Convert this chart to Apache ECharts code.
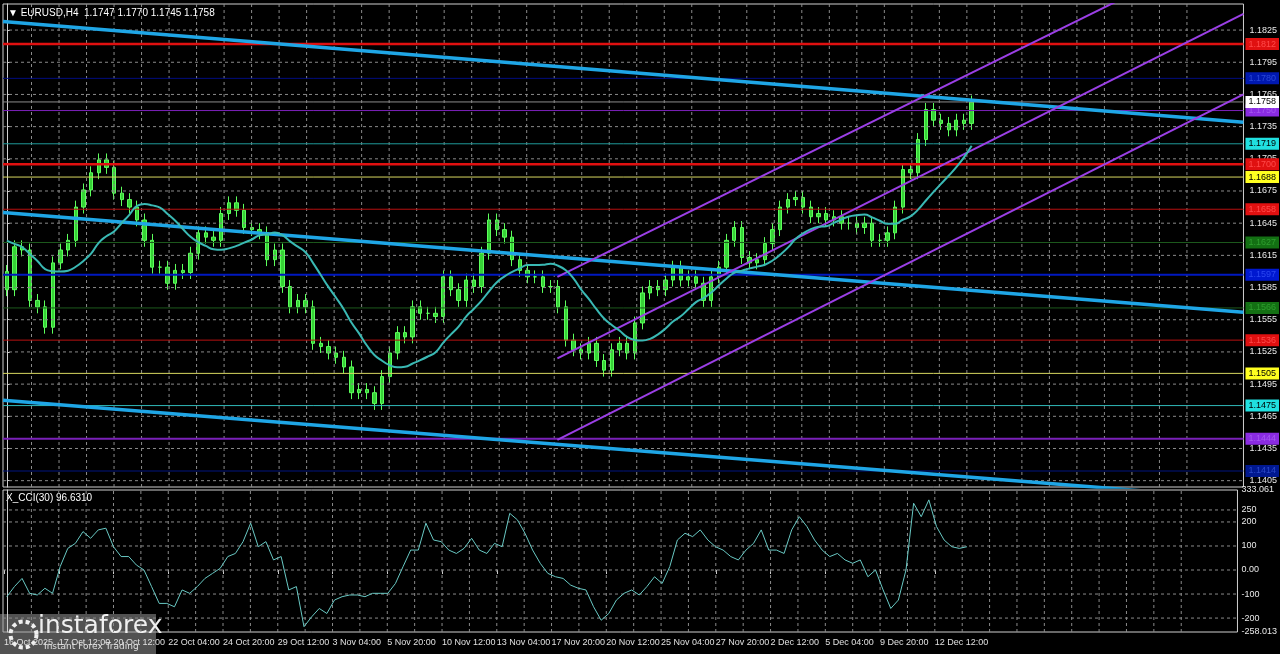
<!DOCTYPE html>
<html><head><meta charset="utf-8">
<script src="https://cdn.jsdelivr.net/npm/echarts@6/dist/echarts.min.js"></script>
<style>html,body{margin:0;padding:0;background:#000;}#c{width:1280px;height:654px;}</style>
</head><body><div id="c"></div>
<script>
// ---- data ----
const closes = [
1.1583,1.1623,1.1620,1.1573,1.1567,1.1548,1.1608,1.1620,1.1629,1.1660,
1.1676,1.1692,1.1704,1.1697,1.1673,1.1667,1.1660,1.1648,1.1629,1.1604,
1.1604,1.1589,1.1601,1.1599,1.1617,1.1636,1.1632,1.1629,1.1654,1.1664,
1.1657,1.1641,1.1639,1.1636,1.1611,1.1620,1.1586,1.1567,1.1573,1.1567,
1.1533,1.1530,1.1524,1.1520,1.1511,1.1487,1.1490,1.1487,1.1477,1.1502,
1.1524,1.1543,1.1539,1.1567,1.1561,1.1561,1.1558,1.1595,1.1583,1.1573,
1.1592,1.1586,1.1617,1.1648,1.1639,1.1632,1.1611,1.1601,1.1595,1.1595,
1.1586,1.1586,1.1567,1.1536,1.1527,1.1524,1.1533,1.1517,1.1508,1.1527,
1.1533,1.1524,1.1552,1.1580,1.1586,1.1583,1.1592,1.1604,1.1592,1.1595,
1.1589,1.1573,1.1595,1.1604,1.1629,1.1641,1.1613,1.1608,1.1611,1.1626,
1.1639,1.1660,1.1667,1.1669,1.1660,1.1651,1.1654,1.1648,1.1651,1.1645,
1.1645,1.1641,1.1645,1.1629,1.1629,1.1636,1.1660,1.1695,1.1692,1.1723,
1.1751,1.1741,1.1738,1.1732,1.1741,1.1738,1.1758];
const firstOpen = 1.1600;
const maSeed = [1.1660,1.1655,1.1650,1.1645,1.1640,1.1630,1.1625,1.1620,1.1615,1.1612,1.1610];
const cci = [
-111,-69,-35,-97,-104,-76,-97,14,90,111,160,132,167,174,97,56,56,21,0,-69,-139,-139,-153,-83,-97,-69,-35,-14,7,56,69,118,195,97,118,42,56,-83,-69,-236,-195,-160,-181,-125,
-111,-104,-104,-111,-97,-97,-97,-56,14,83,83,195,125,118,83,69,90,132,83,69,111,97,236,209,153,83,28,-14,-28,-35,-63,-76,-83,-153,-209,-181,-125,-97,-83,-104,-69,-28,-56,
14,125,153,139,167,125,97,83,56,42,83,111,167,83,83,69,167,222,181,125,83,56,69,42,28,42,-28,0,-83,-160,-125,0,278,222,292,181,125,97,90,97];
const timeLabels = ['16 Oct 2025','17 Oct 12:00','20 Oct 12:00','22 Oct 04:00','24 Oct 20:00','29 Oct 12:00','3 Nov 04:00','5 Nov 20:00','10 Nov 12:00','13 Nov 04:00','17 Nov 20:00','20 Nov 12:00','25 Nov 04:00','27 Nov 20:00','2 Dec 12:00','5 Dec 04:00','9 Dec 20:00','12 Dec 12:00'];
const priceTicks = [1.1825,1.1795,1.1765,1.1735,1.1705,1.1675,1.1645,1.1615,1.1585,1.1555,1.1525,1.1495,1.1465,1.1435,1.1405];
const cciTicks = [250,200,100,0,-100,-200];
const cciAxisLabels = [333.061,250,200,100,0,-100,-200,-258.013];
const levelValues = [1.1812,1.1780,1.1750,1.1719,1.1700,1.1688,1.1658,1.1627,1.1597,1.1566,1.1536,1.1505,1.1475,1.1444,1.1414];
const levelNames = ['','','','[8/8]P','','[7/8]P','[6/8]P','[5/8]P','[4/8]P','[3/8]P','[2/8]P','[1/8]P','[0/8]P','[-1/8]P',''];
const lastPrice = 1.1758;
const trendLines = [[-0.5,1.1833,161.5,1.1739],[-0.5,1.1655,161.5,1.1562],[-0.5,1.1480,161.5,1.1388]];
const channelLines = [[71.9,1.1595,161.5,1.1910],[71.9,1.1519,161.5,1.1840],[71.9,1.1443,161.5,1.1765]];
const levelLabelSlot = 125;
// ---- styles ----
const levelStyle = [
 {c:'#e01010',w:2.5,bg:'#e01010',t:'#ff4a4a'},
 {c:'#000c80',w:1,bg:'#0018b0',t:'#2a48d8'},
 {c:'#7a20b8',w:1,bg:'#8a2be2',t:'#a558f0'},
 {c:'#1f9a9a',w:1,bg:'#20e0e0',t:'#000'},
 {c:'#e01010',w:2.5,bg:'#e01010',t:'#ff4a4a'},
 {c:'#d8d860',w:1,bg:'#ffff20',t:'#000'},
 {c:'#b81010',w:1,bg:'#e01010',t:'#ff4a4a'},
 {c:'#1d5a1d',w:1,bg:'#137013',t:'#2e9e2e'},
 {c:'#0018c0',w:2,bg:'#0018d0',t:'#2a48f0'},
 {c:'#1d5a1d',w:1,bg:'#137013',t:'#2e9e2e'},
 {c:'#b81010',w:1,bg:'#e01010',t:'#ff4a4a'},
 {c:'#d8d860',w:1,bg:'#ffff20',t:'#000'},
 {c:'#2fb8b8',w:1,bg:'#20e0e0',t:'#000'},
 {c:'#7a20b8',w:2,bg:'#8a2be2',t:'#a558f0'},
 {c:'#001480',w:1,bg:'#001890',t:'#2a48c8'}];
const labelNameColor = ['','','','#30c8c8','','#e0d040','#e02020','#2a8a2a','#2040e0','#2a8a2a','#e02020','#e0d040','#30c8c8','#9040e0',''];
const N = 162;
const cats = Array.from({length:N},(_,i)=>i);
const candles = closes.map((c,i)=>{const o=i?closes[i-1]:firstOpen;const h=Math.max(o,c)+0.0006,l=Math.min(o,c)-0.0006;return [o,c,l,h];});
const MAP=12;
const all = maSeed.concat(closes);
const ma = closes.map((c,i)=>{const j=i+maSeed.length;const s=all.slice(j-MAP+1,j+1);return +(s.reduce((a,b)=>a+b,0)/s.length).toFixed(5);});
const slotPx = 1240/N, labelStepSlots = 55/slotPx, firstLabelSlot = 1/slotPx-0.5;
const labelPos = timeLabels.map((_,k)=>firstLabelSlot+k*labelStepSlots);
const vGrid = []; for(let k=1;k<timeLabels.length*2+8;k++){const p=firstLabelSlot+k*labelStepSlots/2; if(p<N-0.5) vGrid.push(p);}
const PMIN=1.13991,PMAX=1.18493,CMIN=-258.013,CMAX=333.061;
function gridData(hs,lo,hi){const d=[];hs.forEach(v=>{d.push([-0.5,v],[N-0.5,v],'-');});vGrid.forEach(x=>{d.push([x,lo],[x,hi],'-');});return d;}
const dash = {color:'#8a8a8a',type:[3,3],width:1};
const chart = echarts.init(document.getElementById('c'));
const seg = (a)=>({type:'line',xAxisIndex:1,yAxisIndex:0,data:[[a[0],a[1]],[a[2],a[3]]],symbol:'none',silent:true});
const levelLabelData = [];
levelValues.forEach((v,i)=>{ if(levelNames[i]) levelLabelData.push({value:[levelLabelSlot,v],label:{formatter:levelNames[i],color:labelNameColor[i]}}); });
const hline=(v,st,bg,tc)=>({type:'line',xAxisIndex:1,yAxisIndex:0,symbol:'none',silent:true,data:[[-0.5,v],[N-0.5,v]],
  lineStyle:{color:st.c,width:st.w},
  endLabel:{show:true,formatter:v.toFixed(4),color:tc,backgroundColor:bg,fontSize:9,fontFamily:'Liberation Sans',padding:[2,3,1,3],distance:2}});
chart.setOption({
 backgroundColor:'#000', animation:false,
 textStyle:{fontFamily:'Liberation Sans'},
 grid:[{left:3,right:36,top:4,height:483,show:true,borderColor:'#cfcfcf',borderWidth:1},
       {left:3,right:36,top:490,height:142,show:true,borderColor:'#cfcfcf',borderWidth:1}],
 xAxis:[
  {type:'category',gridIndex:0,data:cats,show:false,boundaryGap:true},
  {type:'value',gridIndex:0,min:-0.5,max:N-0.5,show:false},
  {type:'value',gridIndex:1,min:-0.5,max:N-0.5,axisLine:{show:false},splitLine:{show:false},
   axisTick:{show:true,customValues:labelPos,length:4,lineStyle:{color:'#ccc'}},
   axisLabel:{customValues:labelPos,color:'#e0e0e0',fontSize:9,margin:6,align:'left',hideOverlap:false,formatter:(v)=>{const k=labelPos.findIndex(p=>Math.abs(p-v)<1e-6);return k>=0?timeLabels[k]:'';}}},
  {type:'category',gridIndex:1,data:cats,show:false,boundaryGap:true}
 ],
 yAxis:[
  {type:'value',gridIndex:0,min:PMIN,max:PMAX,position:'right',splitLine:{show:false},axisLine:{show:true,lineStyle:{color:'#cfcfcf'}},
   axisTick:{show:true,customValues:priceTicks,length:3},axisLabel:{customValues:priceTicks,color:'#e8e8e8',fontSize:9,margin:6,formatter:v=>v.toFixed(4)}},
  {type:'value',gridIndex:1,min:CMIN,max:CMAX,position:'right',splitLine:{show:false},axisLine:{show:true,lineStyle:{color:'#cfcfcf'}},
   axisTick:{show:false},axisLabel:{customValues:cciAxisLabels,color:'#e8e8e8',fontSize:9,margin:4,formatter:v=>Number.isInteger(v)?(v===0?'0.00':String(v)):v.toFixed(3)}}
 ],
 series:[
  {type:'line',xAxisIndex:1,yAxisIndex:0,data:gridData(priceTicks,PMIN,PMAX),symbol:'none',silent:true,lineStyle:dash,connectNulls:false},
  {type:'line',xAxisIndex:2,yAxisIndex:1,data:gridData(cciTicks,CMIN,CMAX),symbol:'none',silent:true,lineStyle:dash,connectNulls:false},
  ...levelValues.map((v,i)=>hline(v,levelStyle[i],levelStyle[i].bg,levelStyle[i].t)),
  hline(lastPrice,{c:'#8c8c8c',w:1},'#ffffff','#000'),
  ...trendLines.map(a=>Object.assign(seg(a),{lineStyle:{color:'#1fa6e6',width:3.5}})),
  ...channelLines.map(a=>Object.assign(seg(a),{lineStyle:{color:'#9b3fe6',width:2}})),
  {type:'candlestick',xAxisIndex:0,yAxisIndex:0,data:candles,barWidth:'50%',
   itemStyle:{color:'#36d236',color0:'#36d236',borderColor:'#5cff5c',borderColor0:'#5cff5c',borderWidth:1}},
  {type:'line',xAxisIndex:0,yAxisIndex:0,data:ma,symbol:'none',smooth:true,lineStyle:{color:'#3ab9b4',width:2}},
  {type:'scatter',xAxisIndex:1,yAxisIndex:0,data:levelLabelData,symbolSize:1,itemStyle:{opacity:0},silent:true,
   label:{show:true,position:'bottom',distance:1,fontSize:10}},
  {type:'line',xAxisIndex:3,yAxisIndex:1,data:cci,symbol:'none',lineStyle:{color:'#69c9c4',width:1}}
 ],
 graphic:[
  {type:'text',left:8,top:8,style:{text:'▼ EURUSD,H4  1.1747 1.1770 1.1745 1.1758',fill:'#ffffff',font:'10px Liberation Sans'}},
  {type:'text',left:6,top:493,style:{text:'X_CCI(30) 96.6310',fill:'#ffffff',font:'10px Liberation Sans'}},
  {type:'rect',left:0,top:614,shape:{width:156,height:40},style:{fill:'rgba(150,150,150,0.55)'}},
  {type:'text',left:38,top:614,style:{text:'instaforex',fill:'#f0f0f0',font:'25px DejaVu Sans'}},
  {type:'text',left:44,top:642,style:{text:'Instant Forex Trading',fill:'#e0e0e0',font:'9px DejaVu Sans'}},
  {type:'circle',left:8,top:619,shape:{r:13},style:{fill:'none',stroke:'#f0f0f0',lineWidth:4,lineDash:[4,3]}}
 ]
});
</script></body></html>
